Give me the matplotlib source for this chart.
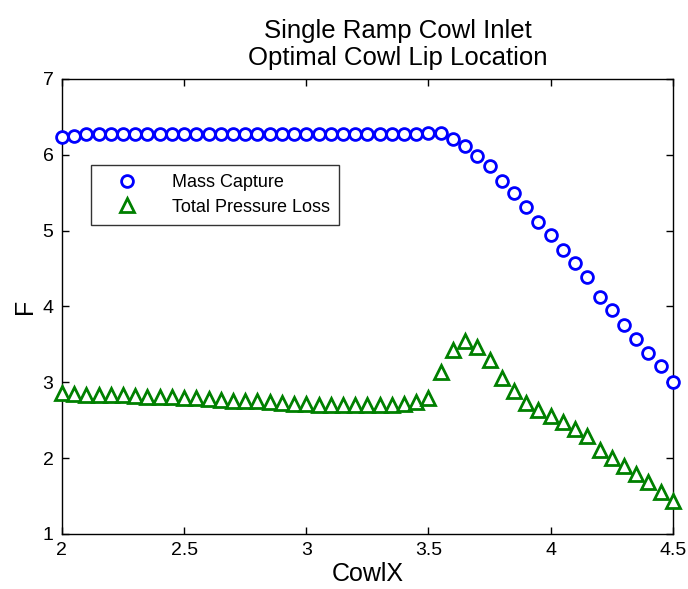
import numpy as np
import matplotlib
matplotlib.use("Agg")
import matplotlib.pyplot as plt

plt.rcParams['font.family'] = ['Liberation Sans', 'DejaVu Sans']

# cowl lip x locations, 2.0 to 4.5 in steps of 0.05
cowl_x = np.round(np.arange(2.0, 4.5001, 0.05), 2)

# mass capture (circles)
mass_capture = [
    6.24, 6.25, 6.27, 6.27, 6.27, 6.27, 6.27, 6.27, 6.27, 6.27,
    6.27, 6.27, 6.27, 6.27, 6.27, 6.27, 6.27, 6.27, 6.27, 6.27,
    6.27, 6.27, 6.27, 6.27, 6.27, 6.27, 6.27, 6.27, 6.27, 6.27,
    6.285, 6.285, 6.21, 6.12, 5.99, 5.85, 5.66, 5.49, 5.31, 5.12,
    4.94, 4.75, 4.57, 4.39, 4.12, 3.95, 3.75, 3.57, 3.38, 3.21,
    3.01,
]

# total pressure loss (triangles)
pressure_loss = [
    2.86, 2.85, 2.83, 2.83, 2.83, 2.83, 2.82, 2.81, 2.81, 2.81,
    2.79, 2.79, 2.78, 2.77, 2.76, 2.75, 2.75, 2.74, 2.73, 2.72,
    2.72, 2.70, 2.70, 2.70, 2.70, 2.70, 2.70, 2.70, 2.72, 2.74,
    2.79, 3.14, 3.42, 3.55, 3.47, 3.29, 3.06, 2.89, 2.73, 2.64,
    2.56, 2.47, 2.38, 2.29, 2.11, 2.00, 1.90, 1.79, 1.68, 1.56,
    1.43,
]

fig = plt.figure(figsize=(6.88, 5.89), dpi=100)
ax = fig.add_axes([0.090, 0.0934, 0.888, 0.7726])

ax.plot(cowl_x, mass_capture, 'o', ls='none', mfc='white', mec=(0, 0, 1),
        ms=8.5, mew=2.0, label='Mass Capture', clip_on=False, zorder=3)
ax.plot(cowl_x, pressure_loss, '^', ls='none', mfc='white', mec=(0, 0.5, 0),
        ms=9.5, mew=2.0, label='Total Pressure Loss', clip_on=False, zorder=3)

ax.set_xlim(2, 4.5)
ax.set_ylim(1, 7)
ax.set_xticks([2, 2.5, 3, 3.5, 4, 4.5])
ax.set_xticklabels(['2', '2.5', '3', '3.5', '4', '4.5'])
ax.set_yticks([1, 2, 3, 4, 5, 6, 7])
ax.tick_params(direction='in', top=True, right=True, length=5, width=1,
               labelsize=14, pad=6)
for s in ax.spines.values():
    s.set_linewidth(1.0)

ax.set_xlabel('CowlX', fontsize=18, labelpad=2)
ax.set_ylabel('F', fontsize=18, labelpad=4)
# title sits a bit right of the axes centre in the original
ax.text(0.55, 1.019, 'Single Ramp Cowl Inlet\nOptimal Cowl Lip Location',
        transform=ax.transAxes, ha='center', va='bottom',
        fontsize=18.5, linespacing=1.15)

leg = ax.legend(loc='upper left', bbox_to_anchor=(0.047, 0.81),
                fontsize=13, frameon=True, fancybox=False, borderpad=0.5,
                handlelength=3.0, handletextpad=1.0, labelspacing=0.4,
                borderaxespad=0)
leg.get_frame().set_edgecolor('black')
leg.get_frame().set_linewidth(1.0)

fig.savefig('out.png', dpi=100)
